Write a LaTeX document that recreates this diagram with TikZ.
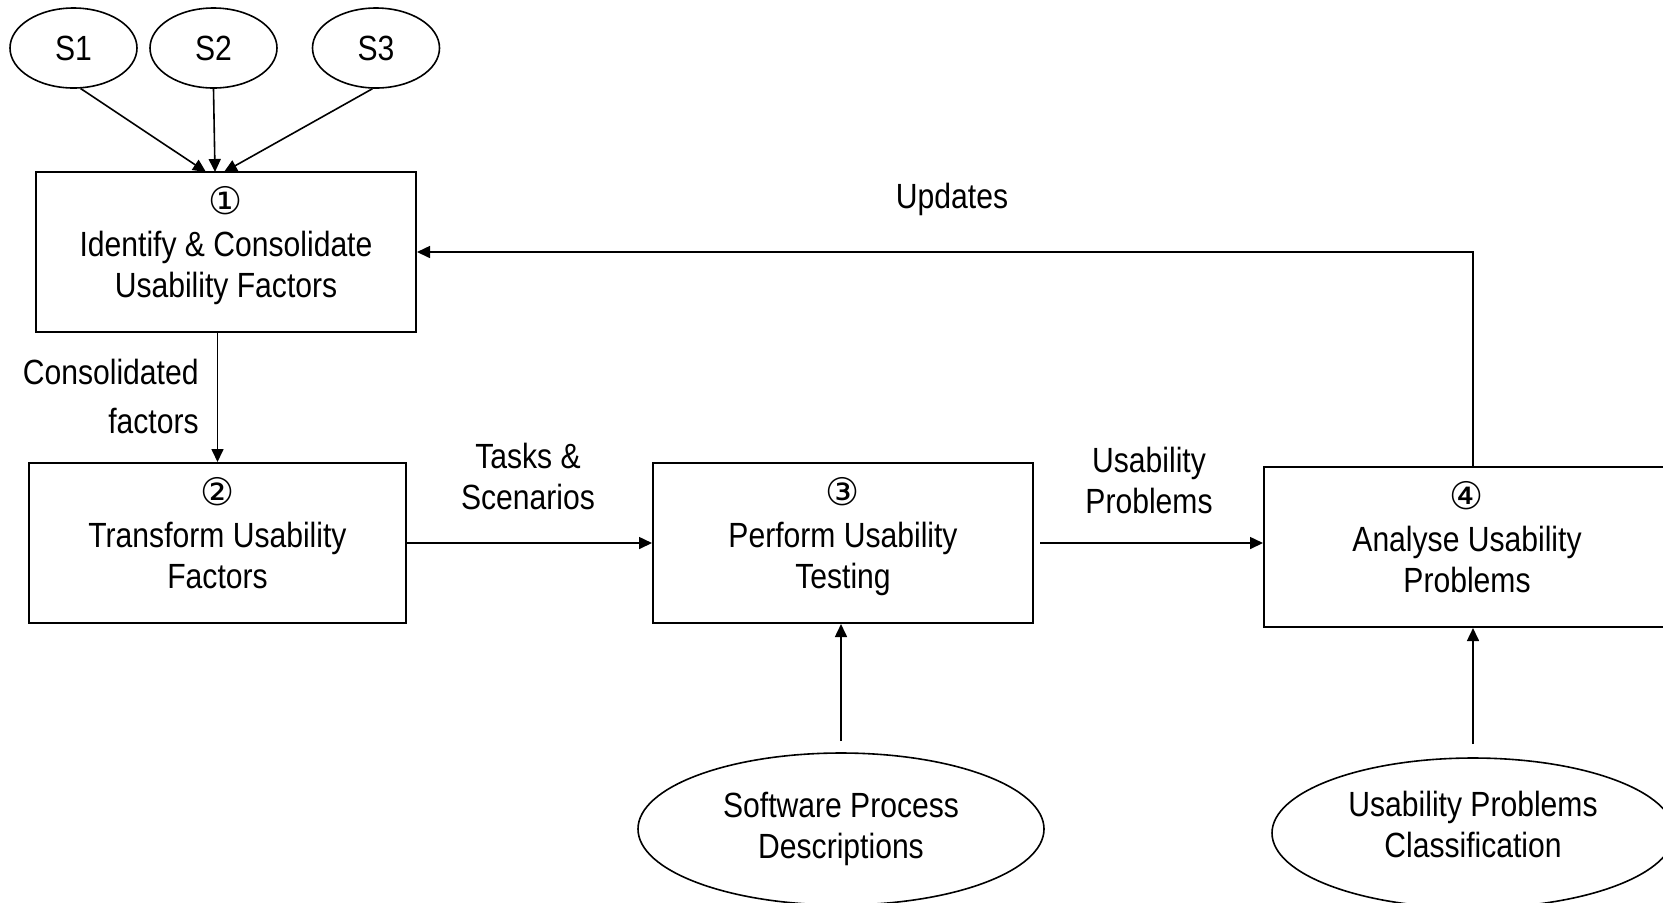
\documentclass[tikz,border=0pt]{standalone}
\usepackage{fontspec}
\setmainfont{Liberation Sans}[FakeStretch=0.86]
\newfontfamily\numfont{DejaVu Sans}
\usetikzlibrary{positioning, shapes.geometric, arrows.meta}

\newcommand\diagfont{\fontsize{17.5}{20.5}\selectfont}
\newcommand\stepnum[1]{{\numfont\fontsize{19}{19}\selectfont #1}\\[0.5pt]}

\begin{document}
\begin{tikzpicture}[x=0.5pt, y=-0.5pt, every node/.style={font=\diagfont}]
    % Styles
    \tikzstyle{source} = [ellipse, draw, line width=0.8pt, minimum width=63.5pt, minimum height=40pt, inner sep=0pt]
    \tikzstyle{input} = [source, minimum width=203pt, minimum height=76pt, align=center]
    \tikzstyle{process} = [rectangle, draw, line width=1pt, minimum width=190pt, minimum height=80pt, inner sep=0pt, align=center, text depth=10pt]
    \tikzstyle{flow text} = [align=center, inner sep=0pt]
    \tikzstyle{edge} = [-{Triangle[length=6.5pt, width=6pt]}, line width=0.8pt]

    \useasboundingbox (0,0) rectangle (1663,902);

    % Nodes
    \node[source] (s1) at (73.5,48) {S1};
    \node[source] (s2) at (213.5,48) {S2};
    \node[source] (s3) at (376,48) {S3};

    \node[process] (box1) at (226,252) {\stepnum{①}Identify \& Consolidate\\Usability Factors};
    \node[process, minimum width=188.5pt] (box2) at (217.5,543) {\stepnum{②}Transform Usability\\Factors};
    \node[process] (box3) at (843,543) {\stepnum{③}Perform Usability\\Testing};
    \node[process, minimum width=203pt] (box4) at (1467,547) {\stepnum{④}Analyse Usability\\Problems};

    \node[input] (spd) at (841,829) {Software Process\\Descriptions};
    \node[input, minimum width=201pt, minimum height=75pt, text depth=9pt] (upc) at (1473,833) {Usability Problems\\Classification};

    \coordinate (in1) at (206,172);
    \coordinate (in2) at (215,172);
    \coordinate (in3) at (224,172);

    % Labels
    \node[flow text] (updates) at (952,199) {Updates};
    \node[flow text, align=right, anchor=east, font=\fontsize{17.5}{24.5}\selectfont] (consolidated) at (199,396) {Consolidated\\factors};
    \node[flow text] (tasks) at (528,476) {Tasks \&\\Scenarios};
    \node[flow text] (problems) at (1149,480) {Usability\\Problems};

    % Edges
    \draw[edge] (s1.-80) -- (in1);
    \draw[edge] (s2.south) -- (in2);
    \draw[edge] (s3.-95) -- (in3);
    \draw[edge] (box1.south -| box2.north) -- (box2.north);
    \draw[edge] (box2.east) -- (box3.west);
    \draw[edge, shorten <=3pt] (box3.east) -- (box3.east -| box4.west);
    \draw[edge] (box4.north -| upc.north) |- (box1.east);
    \draw[edge, shorten <=5.5pt] (spd.north) -- (spd.north |- box3.south);
    \draw[edge, shorten <=6.5pt] (upc.north) -- (upc.north |- box4.south);
\end{tikzpicture}
\end{document}
